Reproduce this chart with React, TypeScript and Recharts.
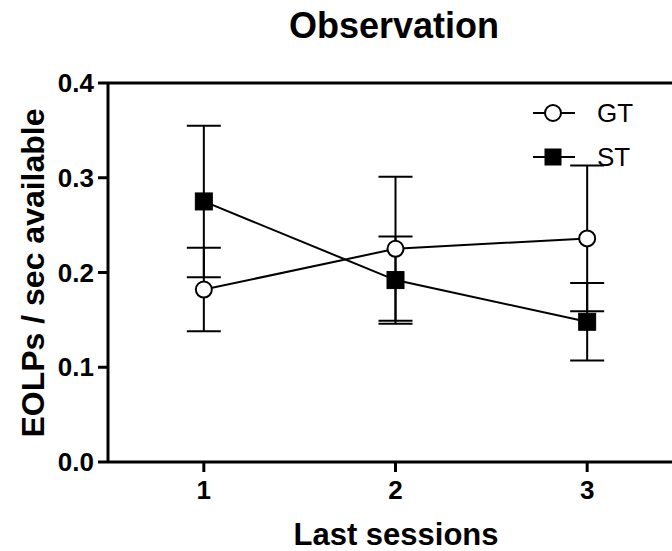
import React from 'react';
import { LineChart, Line, XAxis, YAxis, ErrorBar, ReferenceLine, Legend, Label } from 'recharts';

const sessions = [1, 2, 3];
const gtMean = [0.182, 0.225, 0.236];
const gtSem = [0.044, 0.076, 0.077];
const stMean = [0.275, 0.192, 0.148];
const stSem = [0.08, 0.046, 0.041];
const yTicks = [0, 0.1, 0.2, 0.3, 0.4];
const seriesNames = ['GT', 'ST'];

const data = sessions.map((s, i) => ({
  x: s,
  gt: gtMean[i],
  gtErr: gtSem[i],
  st: stMean[i],
  stErr: stSem[i],
}));

const FONT = '"Liberation Sans", Arial, Helvetica, sans-serif';

const CircleDot = (props: any) => {
  const { cx, cy } = props;
  if (cx == null || cy == null) return null;
  return <circle cx={cx} cy={cy} r={8} fill="#fff" stroke="#000" strokeWidth={2} />;
};

const SquareDot = (props: any) => {
  const { cx, cy } = props;
  if (cx == null || cy == null) return null;
  return <rect x={cx - 8.5} y={cy - 8.5} width={17} height={17} fill="#000" stroke="#000" strokeWidth={1} />;
};

const renderLegend = () => (
  <svg width={140} height={90} style={{ overflow: 'visible', display: 'block' }}>
    {seriesNames.map((name, i) => {
      const cy = 18 + i * 44;
      return (
        <g key={name}>
          <line x1={8} x2={50} y1={cy} y2={cy} stroke="#000" strokeWidth={2} />
          {i === 0 ? (
            <circle cx={28} cy={cy} r={8} fill="#fff" stroke="#000" strokeWidth={2} />
          ) : (
            <rect x={19.5} y={cy - 8.5} width={17} height={17} fill="#000" />
          )}
          <text x={72} y={cy + 9} fontFamily={FONT} fontSize={26} fill="#000">
            {name}
          </text>
        </g>
      );
    })}
  </svg>
);

export default function App() {
  return (
    <div style={{ position: 'absolute', left: 0, top: 0, width: 672, height: 551, overflow: 'hidden', background: '#fff' }}>
      <svg width={672} height={60} style={{ position: 'absolute', left: 0, top: 0 }}>
        <text x={394} y={38} textAnchor="middle" fontFamily={FONT} fontSize={36} fontWeight="bold" fill="#000">
          Observation
        </text>
      </svg>
      <LineChart
        width={700}
        height={551}
        data={data}
        margin={{ top: 83, right: 17, bottom: 0, left: 0 }}
        style={{ position: 'absolute', left: 0, top: 0 }}
      >
        <XAxis
          dataKey="x"
          type="number"
          domain={[0.5, 3.5]}
          ticks={sessions}
          allowDataOverflow
          height={89}
          stroke="#000"
          strokeWidth={3}
          tickSize={10}
          tickMargin={9}
          tickLine={{ stroke: '#000', strokeWidth: 3 }}
          tick={{ fill: '#000', fontFamily: FONT, fontSize: 26, fontWeight: 'bold' }}
        >
          <Label
            content={() => (
              <text x={396} y={545} textAnchor="middle" fontFamily={FONT} fontSize={31} fontWeight="bold" fill="#000">
                Last sessions
              </text>
            )}
          />
        </XAxis>
        <YAxis
          type="number"
          domain={[0, 0.4]}
          ticks={yTicks}
          width={108}
          stroke="#000"
          strokeWidth={3}
          tickSize={10}
          tickMargin={4}
          tickLine={{ stroke: '#000', strokeWidth: 3 }}
          tickFormatter={(v: number) => v.toFixed(1)}
          tick={{ fill: '#000', fontFamily: FONT, fontSize: 26, fontWeight: 'bold' }}
        >
          <Label
            content={() => (
              <text
                x={44}
                y={273}
                transform="rotate(-90 44 273)"
                textAnchor="middle"
                fontFamily={FONT}
                fontSize={32}
                fontWeight="bold"
                fill="#000"
              >
                EOLPs / sec available
              </text>
            )}
          />
        </YAxis>
        <ReferenceLine y={0.4} stroke="#000" strokeWidth={3} />
        <ReferenceLine x={3.5} stroke="#000" strokeWidth={3} />
        <Legend
          content={renderLegend}
          layout="horizontal"
          verticalAlign="middle"
          align="center"
          wrapperStyle={{ position: 'absolute', left: 525, top: 95, width: 140 }}
        />
        <Line
          type="linear"
          dataKey="st"
          name="ST"
          stroke="#000"
          strokeWidth={2}
          dot={<SquareDot />}
          activeDot={false}
          isAnimationActive={false}
        >
          <ErrorBar dataKey="stErr" direction="y" width={17} strokeWidth={2} stroke="#000" />
        </Line>
        <Line
          type="linear"
          dataKey="gt"
          name="GT"
          stroke="#000"
          strokeWidth={2}
          dot={<CircleDot />}
          activeDot={false}
          isAnimationActive={false}
        >
          <ErrorBar dataKey="gtErr" direction="y" width={17} strokeWidth={2} stroke="#000" />
        </Line>
      </LineChart>
    </div>
  );
}
